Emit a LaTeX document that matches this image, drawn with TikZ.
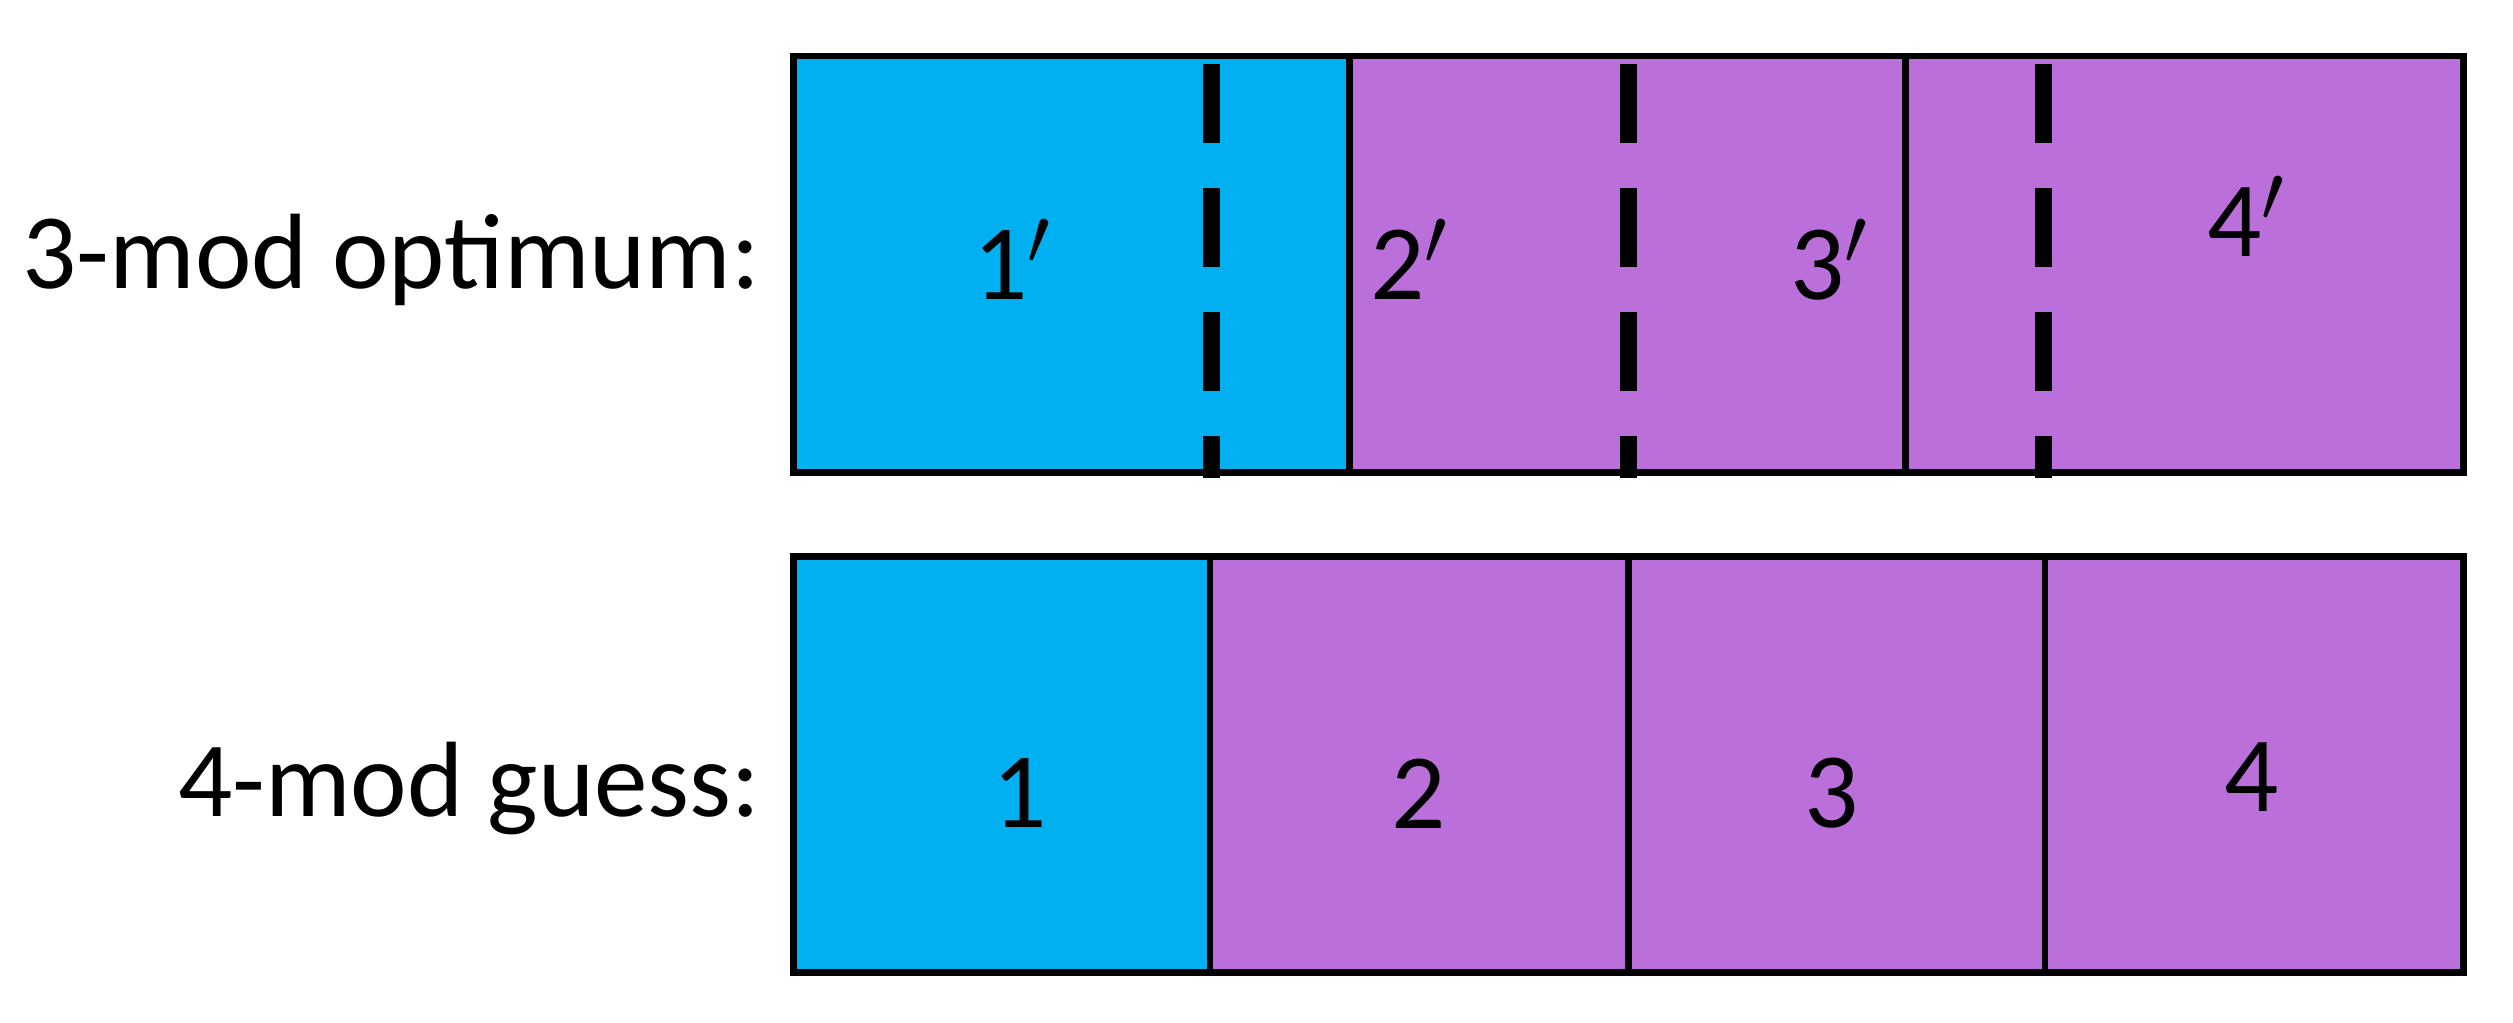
\documentclass[tikz,border=0pt]{standalone}
\usepackage{fontspec}
\setmainfont{Carlito}
\definecolor{cblue}{HTML}{00B0F0}
\definecolor{cpurp}{HTML}{BA6FDB}
\begin{document}
\begin{tikzpicture}[x=0.01cm,y=-0.01cm,
  cell/.style={draw=black,line width=1.2pt},
  lab/.style={font=\fontsize{19}{22}\selectfont,inner sep=0pt},
  dsh/.style={line width=3pt,dash pattern=on 14pt off 8pt}]
\useasboundingbox (0,0) rectangle (1568,638);
% top row
\fill[cblue] (495,35) rectangle (842,295);
\fill[cpurp] (842,35) rectangle (1537,295);
\draw[cell] (495,35) rectangle (1537,295);
\draw[cell] (842,35) -- (842,295);
\draw[cell] (1189,35) -- (1189,295);
\coordinate (d1t) at (756,40); \coordinate (d1b) at (756,298);
\coordinate (d2t) at (1016,40); \coordinate (d2b) at (1016,298);
\coordinate (d3t) at (1275,40); \coordinate (d3b) at (1275,298);
\draw[dsh] (d1t) -- (d1b);
\draw[dsh] (d2t) -- (d2b);
\draw[dsh] (d3t) -- (d3b);
% bottom row
\fill[cblue] (495,347) rectangle (755,607);
\fill[cpurp] (755,347) rectangle (1537,607);
\draw[cell] (495,347) rectangle (1537,607);
\draw[cell] (755,347) -- (755,607);
\draw[cell] (1016,347) -- (1016,607);
\draw[cell] (1276,347) -- (1276,607);
% labels
\node[lab,anchor=east] (t1) at (475,162) {3-mod optimum:};
\node[lab,anchor=east] (t2) at (475,492) {4-mod guess:};
\node[lab] (a1) at (632,162) {1$'$};
\node[lab] (a2) at (880,162) {2$'$};
\node[lab] (a3) at (1142,162) {3$'$};
\node[lab] (a4) at (1402,135) {4$'$};
\node[lab] (b1) at (636,495) {1};
\node[lab] (b2) at (885,495) {2};
\node[lab] (b3) at (1143,495) {3};
\node[lab] (b4) at (1405,485) {4};
\end{tikzpicture}
\end{document}
